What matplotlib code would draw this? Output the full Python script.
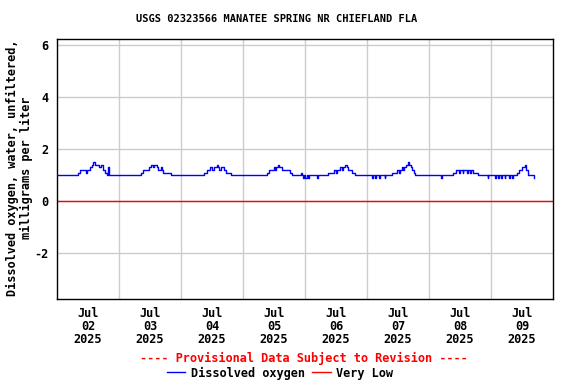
import matplotlib
matplotlib.use("Agg")
import matplotlib.pyplot as plt
from matplotlib.lines import Line2D

title = "USGS 02323566 MANATEE SPRING NR CHIEFLAND FLA"
ylabel = "Dissolved oxygen, water, unfiltered,\nmilligrams per liter"
day_labels = ["Jul\n02\n2025", "Jul\n03\n2025", "Jul\n04\n2025", "Jul\n05\n2025",
              "Jul\n06\n2025", "Jul\n07\n2025", "Jul\n08\n2025", "Jul\n09\n2025"]
y_ticks = [-2, 0, 2, 4, 6]
very_low = 0.0

# Hours since 2025-07-02 00:00 at which the reading changes, and the reading (mg/L)
change_hours = [
    0.0, 8.2, 9.0, 11.3, 11.8, 12.8, 13.6, 14.1, 14.7, 16.2, 16.9, 17.9, 18.5, 19.4, 19.8, 20.1,
    32.4, 33.4, 35.6, 36.3, 37.2, 37.5, 38.6, 39.1, 40.3, 40.6, 40.9, 44.0,
    56.8, 57.9, 59.4, 60.0, 60.7, 62.0, 62.4, 62.9, 63.3, 64.5, 65.6, 67.3,
    81.4, 82.0, 84.0, 84.5, 84.8, 85.5, 86.0, 87.2, 90.3, 90.9, 94.3, 94.7, 95.3, 95.6,
    96.0, 96.7, 97.1, 97.6, 100.5, 100.9,
    104.8, 107.4, 108.0, 108.3, 109.5, 110.5, 110.8, 111.5, 112.1, 112.8, 114.1, 115.3,
    121.8, 122.4, 123.2, 123.5, 124.6, 125.0, 126.8, 127.1,
    129.8, 131.5, 132.3, 132.6, 133.5, 134.0, 134.4, 135.0, 135.9, 136.4, 136.9, 137.5, 138.2, 138.7,
    148.7, 149.0,
    153.4, 154.4, 155.6, 155.9, 157.0, 157.3, 158.6, 159.1, 159.8, 160.3, 161.0, 163.0,
    166.7, 167.0,
    169.7, 170.0, 170.8, 171.2, 172.0, 172.3, 173.3, 173.6, 175.0, 175.3, 176.3, 176.6,
    177.9, 178.8, 180.0, 181.2, 181.6, 182.3, 184.6, 184.8,
]
do_values = [
    1.0, 1.1, 1.2, 1.1, 1.2, 1.3, 1.4, 1.5, 1.4, 1.3, 1.4, 1.2, 1.1, 1.0, 1.3, 1.0,
    1.1, 1.2, 1.3, 1.4, 1.3, 1.4, 1.3, 1.2, 1.3, 1.2, 1.1, 1.0,
    1.1, 1.2, 1.3, 1.2, 1.3, 1.4, 1.3, 1.2, 1.3, 1.2, 1.1, 1.0,
    1.1, 1.2, 1.3, 1.2, 1.3, 1.4, 1.3, 1.2, 1.1, 1.0, 1.1, 1.0, 0.9, 1.0,
    0.9, 1.0, 0.9, 1.0, 0.9, 1.0,
    1.1, 1.2, 1.1, 1.2, 1.3, 1.2, 1.3, 1.4, 1.3, 1.2, 1.1, 1.0,
    0.9, 1.0, 0.9, 1.0, 0.9, 1.0, 0.9, 1.0,
    1.1, 1.2, 1.1, 1.2, 1.3, 1.2, 1.3, 1.4, 1.5, 1.4, 1.3, 1.2, 1.1, 1.0,
    0.9, 1.0,
    1.1, 1.2, 1.1, 1.2, 1.1, 1.2, 1.1, 1.2, 1.1, 1.2, 1.1, 1.0,
    0.9, 1.0,
    0.9, 1.0, 0.9, 1.0, 0.9, 1.0, 0.9, 1.0, 0.9, 1.0, 0.9, 1.0,
    1.1, 1.2, 1.3, 1.4, 1.2, 1.0, 0.9, 0.9,
]

font = dict(family="DejaVu Sans Mono", weight="bold", size=8.6)
title_font = dict(family="DejaVu Sans Mono", weight="bold", size=7.5)

fig = plt.figure(figsize=(5.76, 3.84), dpi=100)
ax = fig.add_axes([57/576, 1-299/384, (553-57)/576, (299-39)/384])

ax.plot(change_hours, do_values, color="#0000ff", lw=1.0, drawstyle="steps-post", zorder=3)
ax.axhline(very_low, color="#ff0000", lw=1.0, zorder=2)

n_days = len(day_labels)
ax.set_xlim(0, 24 * n_days)
ax.set_ylim(-3.75, 6.23)
ax.set_xticks([24 * i + 12 for i in range(n_days)])
ax.set_xticklabels(day_labels, **font, linespacing=1.0)
ax.set_xticks([24 * i for i in range(1, n_days)], minor=True)
ax.set_yticks(y_ticks)
ax.set_yticklabels([str(v) for v in y_ticks], **font)
ax.tick_params(axis="x", which="both", length=0, pad=6)
ax.tick_params(axis="y", which="both", length=0, pad=6)
ax.grid(True, which="minor", axis="x", color="#cccccc", lw=1.0)
ax.grid(True, which="major", axis="y", color="#cccccc", lw=1.0)
ax.set_axisbelow(True)
for s in ax.spines.values():
    s.set_color("black")
    s.set_linewidth(1.0)

ax.set_ylabel(ylabel, **font, linespacing=1.0, va="center")
ax.yaxis.set_label_coords((19.5 - 57) / 496, 0.505)

fig.text(277/576, 1-19.5/384, title, ha="center", va="center", **title_font)
fig.text(304/576, 1-358/384, "---- Provisional Data Subject to Revision ----",
         ha="center", va="center", color="#ff0000", **font)

handles = [Line2D([], [], color="#0000ff", lw=1.0), Line2D([], [], color="#ff0000", lw=1.0)]
fig.legend(handles, ["Dissolved oxygen", "Very Low"], loc="center", bbox_to_anchor=(280/576, 1-373/384),
           ncol=2, frameon=False, prop=dict(family="DejaVu Sans Mono", weight="bold", size=8.6),
           handlelength=1.55, handletextpad=0.45, columnspacing=0.65, borderpad=0)

fig.savefig("out.png", dpi=100)
